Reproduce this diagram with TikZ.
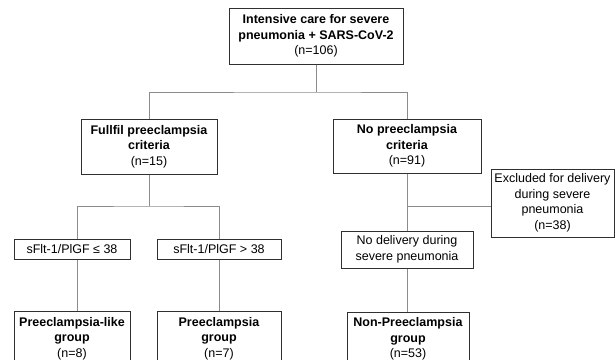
\documentclass[tikz,border=0pt]{standalone}
\usepackage{fontspec}
\setmainfont{Liberation Sans}
\definecolor{conncol}{HTML}{8C8C8C}
\definecolor{boxcol}{HTML}{303030}
\begin{document}
\begin{tikzpicture}[x=1pt,y=-1pt,
  box/.style={draw=boxcol, line width=1pt, fill=white, inner sep=0pt, align=center,
    font=\fontsize{12.5}{15.5}\selectfont},
  conn/.style={draw=conncol, line width=0.9pt}]
\useasboundingbox (0,0) rectangle (615,359);
\fill[white] (0,0) rectangle (615,359);

\node[box, minimum width=174pt, minimum height=56pt] (top) at (316,36)
  {\textbf{Intensive care for severe}\\\textbf{pneumonia + SARS-CoV-2}\\(n=106)};
\node[box, minimum width=136pt, minimum height=55pt] (full) at (149,146.5)
  {\textbf{Fullfil preeclampsia}\\\textbf{criteria}\\(n=15)};
\node[box, minimum width=148pt, minimum height=54pt] (nopre) at (407,146)
  {\textbf{No preeclampsia}\\\textbf{criteria}\\(n=91)};
\node[box, minimum width=116pt, minimum height=20pt] (le) at (72,249)
  {sFlt-1/PlGF ≤ 38};
\node[box, minimum width=124pt, minimum height=20pt] (gt) at (219,249)
  {sFlt-1/PlGF > 38};
\node[box, minimum width=132pt, minimum height=37pt] (nodel) at (407,249.5)
  {No delivery during\\severe pneumonia};
\node[box, minimum width=123pt, minimum height=68pt] (excl) at (552.5,203)
  {Excluded for delivery\\during severe\\pneumonia\\(n=38)};
\node[box, minimum width=116pt, minimum height=55pt] (plike) at (72,338.5)
  {\textbf{Preeclampsia-like}\\\textbf{group}\\(n=8)};
\node[box, minimum width=124pt, minimum height=55pt] (pre) at (219,338.5)
  {\textbf{Preeclampsia}\\\textbf{group}\\(n=7)};
\node[box, minimum width=122pt, minimum height=54pt] (nonpre) at (408,339)
  {\textbf{Non-Preeclampsia}\\\textbf{group}\\(n=53)};

\coordinate (r1) at (0,92);
\coordinate (r2) at (0,206);
\coordinate (bl) at (77,206);

\draw[conn] (top.south) -- (top.south |- r1);
\draw[conn] (full.north) |- (top.south |- r1) -| (nopre.north);
\draw[conn] (full.south) -- (full.south |- r2);
\draw[conn] (bl) -- (full.south |- r2) -| (gt.north);
\draw[conn] (bl) -- (bl |- le.north);
\draw[conn] (le.south -| bl) -- (plike.north -| bl);
\draw[conn] (gt.south) -- (pre.north);
\draw[conn] (nopre.south) -- (nodel.north);
\draw[conn] (nopre.south |- r2) -- (excl.west |- r2);
\draw[conn] (nodel.south) -- (nodel.south |- nonpre.north);
\end{tikzpicture}
\end{document}
